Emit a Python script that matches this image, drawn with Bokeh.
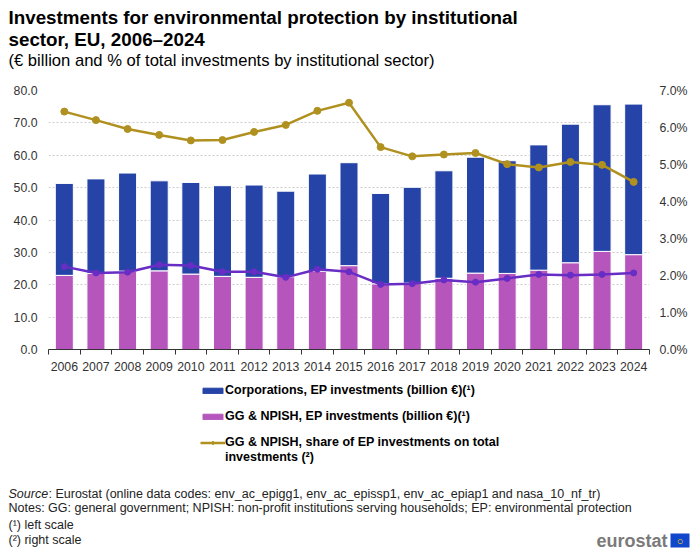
from bokeh.plotting import figure
from bokeh.layouts import column
from bokeh.models import (Range1d, LinearAxis, FixedTicker, PrintfTickFormatter,
                          NumeralTickFormatter, Label, Legend, LegendItem, BoxAnnotation)
from bokeh.embed import file_html
from bokeh.resources import INLINE

years = list(range(2006, 2025))
# billion EUR (left scale)
gg_npish = [22.9, 23.5, 24.2, 24.3, 23.3, 22.6, 22.3, 22.5, 24.2, 25.9,
            20.3, 20.5, 22.0, 23.6, 23.5, 24.5, 26.8, 30.3, 29.3]
total_top = [51.3, 52.7, 54.5, 52.1, 51.6, 50.6, 50.8, 48.9, 54.2, 57.7,
             48.2, 50.1, 55.2, 59.4, 58.3, 63.2, 69.6, 75.6, 75.8]
corporations = [round(t - g, 1) for t, g in zip(total_top, gg_npish)]
# % of total investments (right scale)
gg_share = [6.43, 6.20, 5.96, 5.80, 5.65, 5.66, 5.88, 6.07, 6.45, 6.67,
            5.47, 5.22, 5.27, 5.31, 5.01, 4.92, 5.07, 4.99, 4.53]
corp_share = [2.24, 2.07, 2.09, 2.29, 2.27, 2.10, 2.10, 1.95, 2.17, 2.10,
              1.76, 1.78, 1.88, 1.82, 1.92, 2.03, 2.01, 2.03, 2.07]

BLUE = "#2644A7"
PINK = "#B656BD"
GOLD = "#B09120"
VIOLET = "#672DC4"
FONT = "Liberation Sans"
W = 700


def text_fig(h):
    f = figure(width=W, height=h, output_backend="svg", toolbar_location=None,
               x_axis_location=None, y_axis_location=None, min_border=0,
               x_range=Range1d(0, 1), y_range=Range1d(0, 1), frame_align=False)
    f.outline_line_color = None
    f.grid.visible = False
    return f


def txt(f, s, x, y, size="12px", style="normal", color="#000000", align="left"):
    f.add_layout(Label(x=x, y=y, x_units="screen", y_units="screen", text=s,
                       text_font=FONT, text_font_size=size, text_font_style=style,
                       text_color=color, text_align=align, text_baseline="middle"))


# ---- header
TOP_H = 82
top = text_fig(TOP_H)
txt(top, "Investments for environmental protection by institutional", 8, TOP_H - 17, "18.8px", "bold")
txt(top, "sector, EU, 2006\u20132024", 8, TOP_H - 39, "18.8px", "bold")
txt(top, "(\u20ac billion and % of total investments by institutional sector)", 8, TOP_H - 60, "16.6px")

# ---- chart
p = figure(width=W, height=300, output_backend="svg", toolbar_location=None,
           x_range=Range1d(2005.5, 2024.5), y_range=Range1d(0, 80),
           min_border_left=48, min_border_right=51, min_border_top=8,
           min_border_bottom=33, frame_align=False)
p.outline_line_color = None
p.xgrid.grid_line_color = None
p.ygrid.grid_line_color = "#cccccc"
p.ygrid.grid_line_dash = "2 2"
p.ygrid.ticker = FixedTicker(ticks=list(range(0, 90, 10)))
p.extra_y_ranges = {"pct": Range1d(0, 7)}

src = dict(year=years, gg=gg_npish, corp=corporations)
p.vbar_stack(["gg", "corp"], x="year", width=0.57, color=[PINK, BLUE],
             line_color="white", line_width=1, source=src)
p.line(years, gg_share, y_range_name="pct", color=GOLD, line_width=2.5)
p.scatter(years, gg_share, y_range_name="pct", color=GOLD, size=7)
p.line(years, corp_share, y_range_name="pct", color=VIOLET, line_width=2.5)
p.scatter(years, corp_share, y_range_name="pct", color=VIOLET, size=6)

xa = p.xaxis[0]
xa.ticker = FixedTicker(ticks=years, minor_ticks=[y - 0.5 for y in years] + [2024.5])
xa.major_tick_line_color = None
xa.major_tick_out = 0
xa.major_tick_in = 0
xa.minor_tick_out = 5
xa.minor_tick_in = 0
xa.minor_tick_line_color = "#333333"
xa.axis_line_color = "#333333"
xa.major_label_text_font = FONT
xa.major_label_text_font_size = "12.3px"
xa.major_label_text_color = "#333333"
xa.major_label_standoff = 7

ya = p.yaxis[0]
ya.ticker = FixedTicker(ticks=list(range(0, 90, 10)))
ya.formatter = NumeralTickFormatter(format="0.0")
ya.axis_line_color = None
ya.major_tick_line_color = None
ya.major_tick_out = 0
ya.minor_tick_line_color = None
ya.major_label_text_font = FONT
ya.major_label_text_font_size = "12.3px"
ya.major_label_text_color = "#333333"
ya.major_label_standoff = 11

ra = LinearAxis(y_range_name="pct", ticker=FixedTicker(ticks=list(range(0, 8))),
                formatter=PrintfTickFormatter(format="%.1f%%"))
ra.axis_line_color = None
ra.major_tick_line_color = None
ra.major_tick_out = 0
ra.minor_tick_line_color = None
ra.major_label_text_font = FONT
ra.major_label_text_font_size = "12.3px"
ra.major_label_text_color = "#333333"
ra.major_label_standoff = 10
p.add_layout(ra, "right")

# ---- legend and notes
BOT_H = 170
bot = text_fig(BOT_H)
# legend swatches: one point each, lying outside the (0, 1) ranges of this panel
r_corp = bot.vbar(x=[years[0]], top=[corporations[0]], width=0.5, color=BLUE)
r_gg = bot.vbar(x=[years[0]], top=[gg_npish[0]], width=0.5, color=PINK)
r_line = bot.line(x=years[:2], y=gg_share[:2], color=GOLD, line_width=2.5)
r_dot = bot.scatter(x=[years[0]], y=[gg_share[0]], color=GOLD, size=6)
legend = Legend(items=[
    LegendItem(label="Corporations, EP investments (billion \u20ac)(\u00b9)", renderers=[r_corp]),
    LegendItem(label="GG & NPISH, EP investments (billion \u20ac)(\u00b9)", renderers=[r_gg]),
    LegendItem(label="GG & NPISH, share of EP investments on total", renderers=[r_line, r_dot]),
], location=(200, 552 - 449.5), orientation="vertical",
    glyph_width=25, glyph_height=7, label_height=15, label_standoff=0, spacing=11,
    padding=0, margin=0, border_line_color=None, background_fill_alpha=0,
    label_text_font=FONT, label_text_font_size="12.5px", label_text_font_style="bold",
    label_text_color="#000000")
bot.add_layout(legend, "center")


def btxt(s, x, y, **kw):
    txt(bot, s, x, 552 - y, **kw)


btxt("investments (\u00b2)", 224.5, 456, size="12.5px", style="bold")
NOTE = "#222222"
btxt("Source", 8, 493, size="12.5px", style="italic", color=NOTE)
btxt(": Eurostat (online data codes: env_ac_epigg1, env_ac_epissp1, env_ac_epiap1 and nasa_10_nf_tr)",
     48, 493, size="12.5px", color=NOTE)
btxt("Notes: GG: general government;  NPISH: non-profit institutions serving households; EP: environmental protection",
     8, 507, size="12.5px", color=NOTE)
btxt("(\u00b9) left scale", 8, 524, size="12.5px", color=NOTE)
btxt("(\u00b2) right scale", 8, 539, size="12.5px", color=NOTE)

btxt("eurostat", 667, 540, size="18px", style="bold", color="#7a7a7a", align="right")
bot.add_layout(BoxAnnotation(left=670, right=689, top=552 - 533, bottom=552 - 547,
                             left_units="screen", right_units="screen",
                             top_units="screen", bottom_units="screen",
                             fill_color="#0E47CB", fill_alpha=1, line_color=None))
btxt("\u25cb", 679.5, 540, size="11px", color="#FFDD00", align="center")

layout = column(top, p, bot, spacing=0)
open("out.html", "w").write(file_html(layout, INLINE))
